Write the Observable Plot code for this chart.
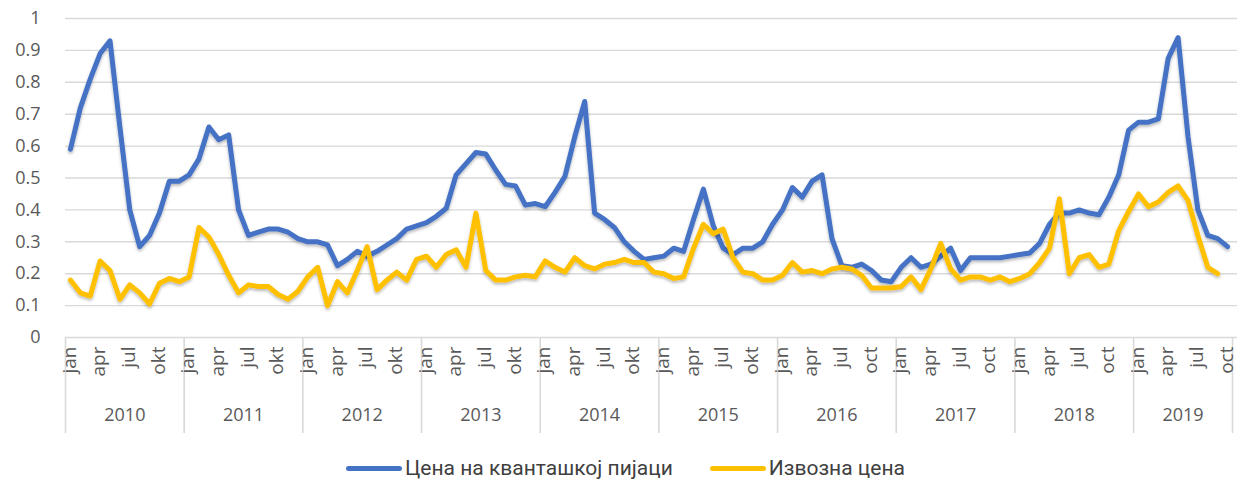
<!DOCTYPE html>
<html><head><meta charset="utf-8">
<script src="https://cdn.jsdelivr.net/npm/d3@7"></script>
<script src="https://cdn.jsdelivr.net/npm/@observablehq/plot@0.6"></script>
<style>
body{margin:0;background:#fff;overflow:hidden;}
#wrap{position:relative;width:1237px;height:481px;}
#legend{position:absolute;left:346px;top:456px;height:24px;display:flex;align-items:center;font-family:Roboto,"Noto Sans",sans-serif;font-size:21px;color:#404040;white-space:nowrap;}
#legend .item{display:flex;align-items:center;margin-right:37px;}
#legend .sw{display:inline-block;width:56px;height:5px;border-radius:3px;margin-right:3px;}
</style></head><body><div id="wrap"><div id="chart"></div><div id="legend"></div></div>
<script>
// ---- data ----
const years = [2010, 2011, 2012, 2013, 2014, 2015, 2016, 2017, 2018, 2019];
const monthsPerYear = [12, 12, 12, 12, 12, 12, 12, 12, 12, 10];
const quarterMonthOffsets = [0, 3, 6, 9];
const monthTickLabels = [
  "jan","apr","jul","okt", "jan","apr","jul","okt", "jan","apr","jul","okt",
  "jan","apr","jul","okt", "jan","apr","jul","okt", "jan","apr","jul","okt",
  "jan","apr","jul","oct", "jan","apr","jul","oct", "jan","apr","jul","oct",
  "jan","apr","jul","oct"
];
const seriesNames = ["Цена на кванташкој пијаци", "Извозна цена"];
const seriesColors = ["#4472C4", "#FFC000"];
const marketPrice = [
  0.59, 0.72, 0.81, 0.89, 0.93, 0.66, 0.40, 0.285, 0.32, 0.39, 0.49, 0.49,
  0.51, 0.56, 0.66, 0.62, 0.635, 0.40, 0.32, 0.33, 0.34, 0.34, 0.33, 0.31,
  0.30, 0.30, 0.29, 0.225, 0.245, 0.27, 0.255, 0.27, 0.29, 0.31, 0.34, 0.35,
  0.36, 0.38, 0.405, 0.51, 0.545, 0.58, 0.575, 0.525, 0.48, 0.475, 0.415, 0.42,
  0.41, 0.455, 0.505, 0.63, 0.74, 0.39, 0.37, 0.345, 0.30, 0.27, 0.245, 0.25,
  0.255, 0.28, 0.27, 0.37, 0.465, 0.35, 0.28, 0.26, 0.28, 0.28, 0.30, 0.355,
  0.40, 0.47, 0.44, 0.49, 0.51, 0.31, 0.225, 0.22, 0.23, 0.21, 0.18, 0.175,
  0.22, 0.25, 0.22, 0.23, 0.255, 0.28, 0.21, 0.25, 0.25, 0.25, 0.25, 0.255,
  0.26, 0.265, 0.295, 0.355, 0.39, 0.39, 0.40, 0.39, 0.385, 0.44, 0.51, 0.65,
  0.675, 0.675, 0.685, 0.875, 0.94, 0.63, 0.40, 0.32, 0.31, 0.285
];
const exportPrice = [
  0.18, 0.14, 0.13, 0.24, 0.21, 0.12, 0.165, 0.14, 0.105, 0.17, 0.185, 0.175,
  0.19, 0.345, 0.315, 0.26, 0.195, 0.14, 0.165, 0.16, 0.16, 0.135, 0.12, 0.145,
  0.19, 0.22, 0.10, 0.175, 0.14, 0.21, 0.285, 0.15, 0.18, 0.205, 0.18, 0.245,
  0.255, 0.22, 0.26, 0.275, 0.22, 0.39, 0.21, 0.18, 0.18, 0.19, 0.195, 0.19,
  0.24, 0.22, 0.205, 0.25, 0.225, 0.215, 0.23, 0.235, 0.245, 0.235, 0.235, 0.205,
  0.20, 0.185, 0.19, 0.28, 0.355, 0.325, 0.34, 0.25, 0.205, 0.20, 0.18, 0.18,
  0.195, 0.235, 0.205, 0.21, 0.20, 0.215, 0.22, 0.215, 0.195, 0.155, 0.155, 0.155,
  0.16, 0.19, 0.15, 0.215, 0.295, 0.215, 0.18, 0.19, 0.19, 0.18, 0.19, 0.175,
  0.185, 0.20, 0.235, 0.28, 0.435, 0.20, 0.25, 0.26, 0.22, 0.23, 0.335, 0.395,
  0.45, 0.41, 0.425, 0.455, 0.475, 0.43, 0.32, 0.22, 0.20
];
const yTicks = [0, 0.1, 0.2, 0.3, 0.4, 0.5, 0.6, 0.7, 0.8, 0.9, 1];

// ---- derived tables ----
const totalMonths = d3.sum(monthsPerYear);
const yearStarts = d3.cumsum([0, ...monthsPerYear.slice(0, -1)]);
const yearLabels = years.map((y, k) => ({x: yearStarts[k] + monthsPerYear[k] / 2, label: String(y)}));
const yearBounds = [...yearStarts, totalMonths];
const monthTicks = [];
let t = 0;
years.forEach((y, k) => {
  quarterMonthOffsets.forEach(off => {
    if (off < monthsPerYear[k]) monthTicks.push({x: yearStarts[k] + off + 0.5, label: monthTickLabels[t++]});
  });
});
const rows = [
  ...marketPrice.map((v, i) => ({x: i + 0.5, v, s: seriesNames[0]})),
  ...exportPrice.map((v, i) => ({x: i + 0.5, v, s: seriesNames[1]}))
];

// ---- layout ----
const W = 1237, H = 447, mT = 18, mB = 110, mL = 65, mR = 5;
const plotH = H - mT - mB;
const gray = "#595959", gridColor = "#d9d9d9";
const font = "'Open Sans', sans-serif";

const chart = Plot.plot({
  width: W, height: H, marginTop: mT, marginBottom: mB, marginLeft: mL, marginRight: mR,
  style: {fontFamily: font, background: "white"},
  x: {domain: [0, totalMonths], axis: null},
  y: {domain: [0, 1], axis: null},
  color: {domain: seriesNames, range: seriesColors},
  marks: [
    Plot.ruleY(yTicks, {y: d => d, stroke: gridColor, strokeWidth: 1.4, insetRight: -mR}),
    Plot.text(yTicks, {y: d => d, text: d => String(+d.toFixed(1)), frameAnchor: "left", textAnchor: "end", dx: -25, fontSize: 18, fill: gray}),
    Plot.ruleX(yearBounds, {x: d => d, stroke: gridColor, strokeWidth: 1.6, insetTop: plotH, insetBottom: -96}),
    Plot.text(monthTicks, {x: "x", text: "label", frameAnchor: "bottom", rotate: -90, textAnchor: "end", lineAnchor: "middle", dx: -1, dy: 9, fontSize: 19, fill: gray}),
    Plot.text(yearLabels, {x: "x", text: "label", frameAnchor: "bottom", dy: 83, fontSize: 18, fill: gray}),
    Plot.line(rows, {x: "x", y: "v", z: "s", stroke: "s", strokeWidth: 5, strokeLinejoin: "round", strokeLinecap: "round"})
  ]
});
document.getElementById("chart").appendChild(chart);

// subtle shadow under the lines (Excel style)
const svg = d3.select(chart.tagName.toLowerCase() === "svg" ? chart : chart.querySelector("svg"));
const defs = svg.insert("defs", ":first-child");
const f = defs.append("filter").attr("id", "lshadow").attr("x", "-5%").attr("y", "-5%").attr("width", "110%").attr("height", "120%");
f.append("feDropShadow").attr("dx", 0).attr("dy", 2).attr("stdDeviation", 1.6).attr("flood-color", "#000").attr("flood-opacity", 0.28);
svg.selectAll("g[aria-label='line'] path").attr("filter", "url(#lshadow)");

// legend
const lg = d3.select("#legend");
seriesNames.forEach((n, k) => {
  const it = lg.append("div").attr("class", "item");
  it.append("span").attr("class", "sw").style("background", seriesColors[k]);
  it.append("span").text(n);
});
</script></body></html>
